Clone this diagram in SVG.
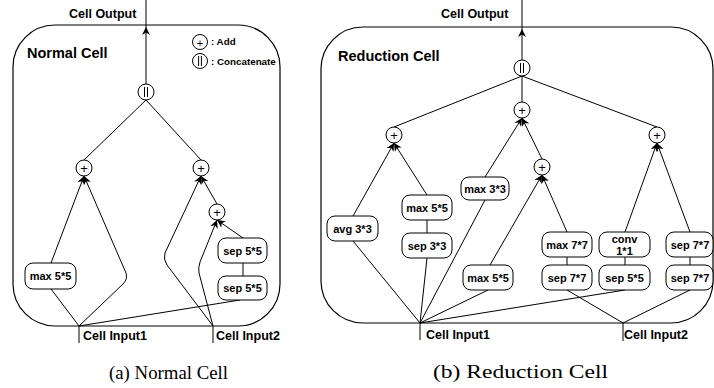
<svg xmlns="http://www.w3.org/2000/svg" width="714" height="388" viewBox="0 0 714 388">
  <style>
    .frame { fill: none; stroke: #000; stroke-width: 1.2; }
    .op { fill: #fff; stroke: #000; stroke-width: 1; }
    .node { fill: #fff; stroke: #000; stroke-width: 1; }
    .edge { fill: none; stroke: #000; stroke-width: 1; }
    .lbl { font-family: "Liberation Sans", Arial, sans-serif; font-weight: bold; font-size: 11px; text-anchor: middle; fill: #000; }
    .sym { font-family: "Liberation Sans", Arial, sans-serif; font-size: 13px; text-anchor: middle; fill: #000; }
    .io { font-family: "Liberation Sans", Arial, sans-serif; font-weight: bold; font-size: 12.5px; fill: #000; }
    .title { font-family: "Liberation Sans", Arial, sans-serif; font-weight: bold; font-size: 14.5px; fill: #000; }
    .legend { font-family: "Liberation Sans", Arial, sans-serif; font-weight: bold; font-size: 9.8px; fill: #000; }
    .caption { font-family: "Liberation Serif", "Times New Roman", serif; font-size: 18.5px; fill: #000; }
  </style>
  <defs>
    <marker id="arrow" viewBox="0 0 10 10" refX="10" refY="5" markerWidth="8" markerHeight="8" markerUnits="userSpaceOnUse" orient="auto">
      <path d="M0,0 L10,5 L0,10 L3,5 z" fill="#000"/>
    </marker>
    <g id="add">
      <circle r="8" class="op"/>
      <text y="4.5" class="sym">+</text>
    </g>
    <g id="cat">
      <circle r="8" class="op"/>
      <line x1="-1.5" y1="-5" x2="-1.5" y2="5" stroke="#000" stroke-width="1"/>
      <line x1="1.5" y1="-5" x2="1.5" y2="5" stroke="#000" stroke-width="1"/>
    </g>
  </defs>

  <!-- ===== Normal cell ===== -->
  <g id="normal-frame">
    <rect x="13" y="25" width="267" height="301" rx="42" ry="42" class="frame"/>
    <text x="27" y="58" class="title">Normal Cell</text>
  </g>
  <g id="normal-legend">
    <circle cx="200" cy="42" r="7.5" class="op"/>
    <text x="200" y="46.5" class="sym" style="font-size:11px">+</text>
    <text x="211" y="45" class="legend">: Add</text>
    <circle cx="200" cy="61" r="7.5" class="op"/>
    <line x1="198.6" y1="56" x2="198.6" y2="66" stroke="#000"/>
    <line x1="201.4" y1="56" x2="201.4" y2="66" stroke="#000"/>
    <text x="211" y="64.5" class="legend">: Concatenate</text>
  </g>

  <g id="normal-edges">
    <line x1="146" y1="84" x2="146" y2="27" class="edge" marker-end="url(#arrow)"/>
    <line x1="146" y1="27" x2="146" y2="0" class="edge"/>
    <line x1="146" y1="100" x2="84" y2="160" class="edge"/>
    <line x1="146" y1="100" x2="201" y2="160" class="edge"/>
    <line x1="51" y1="263" x2="84" y2="176" class="edge" marker-end="url(#arrow)"/>
    <path d="M79,326 L123,284 Q128,279 126,273 L84,176" class="edge" marker-end="url(#arrow)"/>
    <line x1="51" y1="289" x2="79" y2="326" class="edge"/>
    <path d="M213,326 L167,265 Q163,259 165,253 L201,176" class="edge" marker-end="url(#arrow)"/>
    <line x1="217" y1="204" x2="201" y2="176" class="edge" marker-end="url(#arrow)"/>
    <path d="M213,326 L199,273 Q198,268 200,262 L217,220" class="edge" marker-end="url(#arrow)"/>
    <line x1="243" y1="238" x2="217" y2="220" class="edge" marker-end="url(#arrow)"/>
    <line x1="243" y1="263" x2="243" y2="276" class="edge"/>
    <line x1="240" y1="300" x2="79" y2="326" class="edge"/>
    <line x1="79" y1="326" x2="79" y2="343" class="edge"/>
    <line x1="213" y1="326" x2="213" y2="343" class="edge"/>
  </g>

  <g id="normal-output"><text x="69" y="18" class="io">Cell Output</text></g>
  <g id="normal-concat"><use href="#cat" x="146" y="92"/></g>
  <g id="normal-add-left"><use href="#add" x="84" y="168"/></g>
  <g id="normal-add-right"><use href="#add" x="201" y="168"/></g>
  <g id="normal-add-inner"><use href="#add" x="217" y="212"/></g>
  <g id="normal-max55">
    <rect x="25" y="263" width="51" height="26" rx="8" class="node"/>
    <text x="50.5" y="280" class="lbl">max 5*5</text>
  </g>
  <g id="normal-sep55-a">
    <rect x="218" y="238" width="49" height="25" rx="8" class="node"/>
    <text x="242.5" y="254.5" class="lbl">sep 5*5</text>
  </g>
  <g id="normal-sep55-b">
    <rect x="218" y="276" width="49" height="24" rx="8" class="node"/>
    <text x="242.5" y="292" class="lbl">sep 5*5</text>
  </g>
  <g id="normal-input1"><text x="83" y="340" class="io">Cell Input1</text></g>
  <g id="normal-input2"><text x="216" y="340" class="io">Cell Input2</text></g>
  <text x="109" y="379" class="caption" textLength="119" lengthAdjust="spacingAndGlyphs">(a) Normal Cell</text>

  <!-- ===== Reduction cell ===== -->
  <g id="reduction-frame">
    <rect x="321" y="27" width="392" height="296" rx="42" ry="42" class="frame"/>
    <text x="338" y="61" class="title">Reduction Cell</text>
  </g>

  <g id="reduction-edges">
    <line x1="522" y1="60" x2="522" y2="29" class="edge" marker-end="url(#arrow)"/>
    <line x1="522" y1="29" x2="522" y2="0" class="edge"/>
    <line x1="522" y1="76" x2="394" y2="127" class="edge"/>
    <line x1="522" y1="76" x2="522" y2="102" class="edge"/>
    <line x1="522" y1="76" x2="657" y2="127" class="edge"/>
    <line x1="353" y1="216" x2="394" y2="143" class="edge" marker-end="url(#arrow)"/>
    <line x1="427" y1="195" x2="394" y2="143" class="edge" marker-end="url(#arrow)"/>
    <line x1="427" y1="220" x2="427" y2="233" class="edge"/>
    <line x1="353" y1="241" x2="420" y2="323" class="edge"/>
    <line x1="427" y1="258" x2="420" y2="323" class="edge"/>
    <line x1="485" y1="177" x2="522" y2="118" class="edge" marker-end="url(#arrow)"/>
    <line x1="542" y1="159" x2="522" y2="118" class="edge" marker-end="url(#arrow)"/>
    <line x1="485" y1="200" x2="420" y2="323" class="edge"/>
    <line x1="490" y1="265" x2="542" y2="175" class="edge" marker-end="url(#arrow)"/>
    <line x1="567" y1="232" x2="542" y2="175" class="edge" marker-end="url(#arrow)"/>
    <line x1="488" y1="290" x2="420" y2="323" class="edge"/>
    <line x1="567" y1="257" x2="567" y2="265" class="edge"/>
    <line x1="567" y1="290" x2="623" y2="323" class="edge"/>
    <line x1="625" y1="257" x2="625" y2="265" class="edge"/>
    <line x1="625" y1="290" x2="420" y2="323" class="edge"/>
    <line x1="625" y1="232" x2="657" y2="143" class="edge" marker-end="url(#arrow)"/>
    <line x1="690" y1="232" x2="657" y2="143" class="edge" marker-end="url(#arrow)"/>
    <line x1="690" y1="257" x2="690" y2="265" class="edge"/>
    <line x1="690" y1="290" x2="623" y2="323" class="edge"/>
    <line x1="420" y1="323" x2="420" y2="340" class="edge"/>
    <line x1="623" y1="323" x2="623" y2="341" class="edge"/>
  </g>

  <g id="reduction-output"><text x="441" y="18" class="io">Cell Output</text></g>
  <g id="reduction-concat"><use href="#cat" x="522" y="68"/></g>
  <g id="reduction-add-mid"><use href="#add" x="522" y="110"/></g>
  <g id="reduction-add-left"><use href="#add" x="394" y="135"/></g>
  <g id="reduction-add-right"><use href="#add" x="657" y="135"/></g>
  <g id="reduction-add-inner"><use href="#add" x="542" y="167"/></g>

  <g id="reduction-avg33">
    <rect x="327" y="216" width="51" height="25" rx="8" class="node"/>
    <text x="352.5" y="232.5" class="lbl">avg 3*3</text>
  </g>
  <g id="reduction-max55-a">
    <rect x="402" y="195" width="50" height="25" rx="8" class="node"/>
    <text x="427" y="211.5" class="lbl">max 5*5</text>
  </g>
  <g id="reduction-sep33">
    <rect x="402" y="233" width="50" height="25" rx="8" class="node"/>
    <text x="427" y="249.5" class="lbl">sep 3*3</text>
  </g>
  <g id="reduction-max33">
    <rect x="461" y="177" width="48" height="23" rx="8" class="node"/>
    <text x="485" y="192.5" class="lbl">max 3*3</text>
  </g>
  <g id="reduction-max55-b">
    <rect x="463" y="265" width="50" height="25" rx="8" class="node"/>
    <text x="488" y="281.5" class="lbl">max 5*5</text>
  </g>
  <g id="reduction-max77">
    <rect x="542" y="232" width="50" height="25" rx="8" class="node"/>
    <text x="567" y="248.5" class="lbl">max 7*7</text>
  </g>
  <g id="reduction-sep77-a">
    <rect x="542" y="265" width="50" height="25" rx="8" class="node"/>
    <text x="567" y="281.5" class="lbl">sep 7*7</text>
  </g>
  <g id="reduction-conv11">
    <rect x="599" y="232" width="51" height="25" rx="8" class="node"/>
    <text x="624.5" y="242.5" class="lbl">conv</text>
    <text x="624.5" y="254.5" class="lbl">1*1</text>
  </g>
  <g id="reduction-sep55">
    <rect x="599" y="265" width="51" height="25" rx="8" class="node"/>
    <text x="624.5" y="281.5" class="lbl">sep 5*5</text>
  </g>
  <g id="reduction-sep77-b">
    <rect x="666" y="232" width="47" height="25" rx="8" class="node"/>
    <text x="690" y="248.5" class="lbl">sep 7*7</text>
  </g>
  <g id="reduction-sep77-c">
    <rect x="666" y="265" width="47" height="25" rx="8" class="node"/>
    <text x="690" y="281.5" class="lbl">sep 7*7</text>
  </g>
  <g id="reduction-input1"><text x="426" y="339" class="io">Cell Input1</text></g>
  <g id="reduction-input2"><text x="624" y="339" class="io">Cell Input2</text></g>
  <text x="433" y="378" class="caption" textLength="175" lengthAdjust="spacingAndGlyphs">(b) Reduction Cell</text>
</svg>
